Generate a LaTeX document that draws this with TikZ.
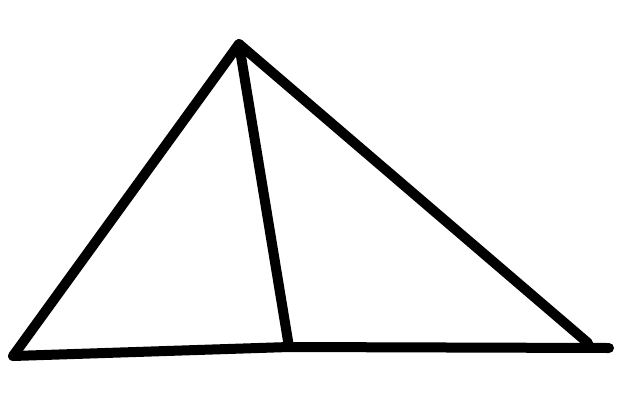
\documentclass[tikz,border=0pt]{standalone}
\begin{document}
\begin{tikzpicture}[x=1pt,y=-1pt,
  stroke/.style={line width=10pt,line cap=round,line join=round,black}]
\useasboundingbox (0,0) rectangle (640,400);
\fill[white] (0,0) rectangle (640,400);
\coordinate (apex) at (239,44);
\coordinate (left) at (13,356);
\coordinate (right) at (609,348);
\coordinate (rcorner) at (588,343);
\coordinate (foot) at (289,347);
\draw[stroke] (left) -- (apex) -- (rcorner);
\draw[stroke] (left) -- (foot) -- (right);
\draw[stroke] (apex) -- (foot);
\end{tikzpicture}
\end{document}
